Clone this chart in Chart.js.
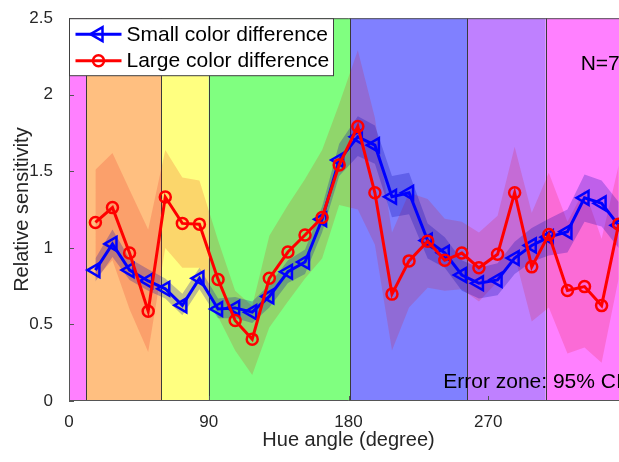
<!DOCTYPE html>
<html><head><meta charset="utf-8">
<script src="https://cdn.jsdelivr.net/npm/chart.js@4"></script>
<style>
html,body{margin:0;padding:0;overflow:hidden;background:#fff;width:619px;height:462px}
#wrap{width:660px;height:462px}
</style></head>
<body><div id="wrap"><canvas id="c" width="660" height="462"></canvas></div>
<script>
// ---- data ----
const hueAngles = [17, 28, 39, 51, 62, 73, 84, 96, 107, 118, 129, 141, 152, 163, 174, 186,
                   197, 208, 219, 231, 242, 253, 264, 276, 287, 298, 309, 321, 332, 343, 354];
const smallDiff = [0.855, 1.026, 0.855, 0.784, 0.733, 0.625, 0.801, 0.601, 0.608, 0.580, 0.683, 0.844, 0.908, 1.187, 1.574, 1.725,
                   1.671, 1.334, 1.360, 1.048, 0.968, 0.823, 0.769, 0.791, 0.934, 1.016, 1.070, 1.106, 1.327, 1.291, 1.147];
const smallUpper = [0.93, 1.12, 0.93, 0.86, 0.80, 0.70, 0.87, 0.67, 0.68, 0.65, 0.76, 0.92, 0.99, 1.27, 1.68, 1.86,
                    1.80, 1.47, 1.49, 1.16, 1.07, 0.92, 0.87, 0.90, 1.04, 1.13, 1.19, 1.25, 1.48, 1.44, 1.30];
const smallLower = [0.78, 0.94, 0.79, 0.72, 0.67, 0.56, 0.73, 0.54, 0.54, 0.51, 0.61, 0.77, 0.83, 1.10, 1.47, 1.60,
                    1.55, 1.20, 1.22, 0.93, 0.87, 0.72, 0.67, 0.69, 0.83, 0.91, 0.95, 0.97, 1.17, 1.14, 1.00];
const largeDiff = [1.166, 1.263, 0.966, 0.586, 1.332, 1.160, 1.155, 0.794, 0.526, 0.404, 0.801, 0.973, 1.084, 1.198, 1.542, 1.793,
                   1.360, 0.698, 0.915, 1.044, 0.919, 0.966, 0.870, 0.958, 1.360, 0.876, 1.087, 0.722, 0.747, 0.623, 1.155];
const largeUpper = [1.51, 1.62, 1.38, 1.12, 1.64, 1.46, 1.44, 1.05, 0.72, 0.62, 1.08, 1.28, 1.45, 1.64, 1.94, 2.29,
                    1.85, 1.10, 1.36, 1.32, 1.19, 1.17, 1.10, 1.21, 1.66, 1.23, 1.49, 1.17, 1.38, 1.06, 1.54];
const largeLower = [0.80, 0.92, 0.60, 0.32, 1.00, 0.87, 0.87, 0.55, 0.33, 0.17, 0.48, 0.65, 0.80, 0.93, 1.28, 1.25,
                    1.02, 0.33, 0.61, 0.74, 0.72, 0.73, 0.65, 0.78, 0.95, 0.52, 0.61, 0.31, 0.35, 0.25, 0.80];
const seriesLabels = ['Small color difference', 'Large color difference'];
const xTicks = [0, 90, 180, 270];
const yTicks = [0, 0.5, 1, 1.5, 2, 2.5];
const regionEdges = [0, 11, 59.5, 90, 181, 256.5, 307, 360];
const noteN = 'N=7';
const noteErr = 'Error zone: 95% CI';
const xTitle = 'Hue angle (degree)';
const yTitle = 'Relative sensitivity';

// ---- styles ----
const regionColors = ['#ff80ff', '#ffbf80', '#ffff80', '#80ff80', '#8080ff', '#bf80ff', '#ff80ff'];
const FONT = "'Liberation Sans', Arial, Helvetica, sans-serif";
const TXT = '#262626';
const BLUE = '#0000ff', RED = '#ff0000';
const blueMarker = {pointStyle: 'triangle', rotation: -90, radius: 8, borderWidth: 2.5};
const redMarker = {pointStyle: 'circle', rotation: 0, radius: 5.5, borderWidth: 2.5};

const pts = arr => hueAngles.map((x, i) => ({x, y: arr[i]}));

const decor = {
  id: 'decor',
  beforeDatasetsDraw(chart) {
    const {ctx, chartArea: a, scales: {x}} = chart;
    ctx.save();
    for (let i = 0; i < regionColors.length; i++) {
      const x0 = x.getPixelForValue(regionEdges[i]);
      const x1 = x.getPixelForValue(regionEdges[i + 1]);
      ctx.fillStyle = regionColors[i];
      ctx.fillRect(x0, a.top, x1 - x0, a.bottom - a.top);
    }
    ctx.strokeStyle = '#3a3a3a';
    ctx.lineWidth = 1;
    for (let i = 1; i < regionEdges.length - 1; i++) {
      const px = Math.round(x.getPixelForValue(regionEdges[i])) + 0.5;
      ctx.beginPath(); ctx.moveTo(px, a.top); ctx.lineTo(px, a.bottom); ctx.stroke();
    }
    ctx.restore();
  },
  afterDraw(chart) {
    const {ctx, chartArea: a, scales: {x, y}} = chart;
    ctx.save();
    // axes box
    ctx.strokeStyle = '#555';
    ctx.lineWidth = 1;
    ctx.beginPath();
    ctx.moveTo(a.right, a.top + 0.5); ctx.lineTo(a.left + 0.5, a.top + 0.5);
    ctx.lineTo(a.left + 0.5, a.bottom - 0.5); ctx.lineTo(a.right, a.bottom - 0.5);
    ctx.stroke();
    // inward ticks
    ctx.beginPath();
    yTicks.forEach(v => {
      const py = Math.round(y.getPixelForValue(v)) + 0.5;
      ctx.moveTo(a.left, py); ctx.lineTo(a.left + 5, py);
    });
    xTicks.forEach(v => {
      const px = Math.round(x.getPixelForValue(v)) + 0.5;
      ctx.moveTo(px, a.bottom); ctx.lineTo(px, a.bottom - 5);
    });
    ctx.stroke();
    // legend
    const lx = a.left + 0.5, ly = a.top + 0.5, lw = 264, lh = 57;
    ctx.fillStyle = '#fff';
    ctx.fillRect(lx, ly, lw, lh);
    ctx.strokeStyle = '#404040';
    ctx.strokeRect(lx, ly, lw, lh);
    const entries = [
      {label: seriesLabels[0], color: BLUE, marker: blueMarker, yy: ly + 15.5},
      {label: seriesLabels[1], color: RED, marker: redMarker, yy: ly + 42}
    ];
    entries.forEach(e => {
      ctx.strokeStyle = e.color;
      ctx.lineWidth = 3;
      ctx.beginPath(); ctx.moveTo(lx + 6, e.yy); ctx.lineTo(lx + 52, e.yy); ctx.stroke();
      ctx.fillStyle = 'rgba(0,0,0,0)';
      ctx.lineWidth = e.marker.borderWidth;
      Chart.helpers.drawPoint(ctx, e.marker, lx + 29, e.yy);
      ctx.fillStyle = '#000';
      ctx.font = '21px ' + FONT;
      ctx.textBaseline = 'middle';
      ctx.textAlign = 'left';
      ctx.fillText(e.label, lx + 57, e.yy + 1);
    });
    // notes
    ctx.fillStyle = '#000';
    ctx.font = '21px ' + FONT;
    ctx.textBaseline = 'middle';
    ctx.fillText(noteN, x.getPixelForValue(329.5), y.getPixelForValue(2.2));
    ctx.fillText(noteErr, x.getPixelForValue(241), y.getPixelForValue(0.12));
    ctx.restore();
  }
};

new Chart(document.getElementById('c'), {
  type: 'line',
  data: {
    datasets: [
      {label: seriesLabels[1], data: pts(largeDiff), order: 0, borderColor: RED, borderWidth: 3,
       pointStyle: 'circle', pointRadius: redMarker.radius, pointBorderWidth: redMarker.borderWidth,
       pointBorderColor: RED, pointBackgroundColor: 'rgba(0,0,0,0)', fill: false, tension: 0},
      {label: seriesLabels[0], data: pts(smallDiff), order: 1, borderColor: BLUE, borderWidth: 3,
       pointStyle: 'triangle', pointRotation: -90, pointRadius: blueMarker.radius, pointBorderWidth: blueMarker.borderWidth,
       pointBorderColor: BLUE, pointBackgroundColor: 'rgba(0,0,0,0)', fill: false, tension: 0},
      {label: 'su', data: pts(smallUpper), order: 2, borderWidth: 0, pointRadius: 0, fill: false},
      {label: 'sl', data: pts(smallLower), order: 3, borderWidth: 0, pointRadius: 0, fill: '-1',
       backgroundColor: 'rgba(0,0,170,0.25)'},
      {label: 'lu', data: pts(largeUpper), order: 4, borderWidth: 0, pointRadius: 0, fill: false},
      {label: 'll', data: pts(largeLower), order: 5, borderWidth: 0, pointRadius: 0, fill: '-1',
       backgroundColor: 'rgba(230,0,0,0.16)'}
    ]
  },
  options: {
    responsive: false,
    animation: false,
    events: [],
    layout: {padding: {top: 13, right: 32, bottom: 0, left: 0}},
    plugins: {legend: {display: false}, tooltip: {enabled: false}},
    scales: {
      x: {
        type: 'linear', min: 0, max: 360,
        grid: {display: false}, border: {display: false},
        afterBuildTicks: s => { s.ticks = xTicks.map(v => ({value: v})); },
        afterFit: s => { s.height = 61; },
        ticks: {color: TXT, font: {family: FONT, size: 17}, padding: 3, maxRotation: 0, autoSkip: false,
                callback: v => String(v)},
        title: {display: true, text: xTitle, color: TXT, font: {family: FONT, size: 20}, padding: {top: 0, bottom: 10}}
      },
      y: {
        type: 'linear', min: 0, max: 2.5,
        grid: {display: false}, border: {display: false},
        afterBuildTicks: s => { s.ticks = yTicks.map(v => ({value: v})); },
        afterFit: s => { s.width = 69; },
        ticks: {color: TXT, font: {family: FONT, size: 17}, padding: 8, autoSkip: false,
                callback: v => String(v)},
        title: {display: true, text: yTitle, color: TXT, font: {family: FONT, size: 20}, padding: {top: 10, bottom: 0}}
      }
    }
  },
  plugins: [decor]
});
</script>
</body></html>
